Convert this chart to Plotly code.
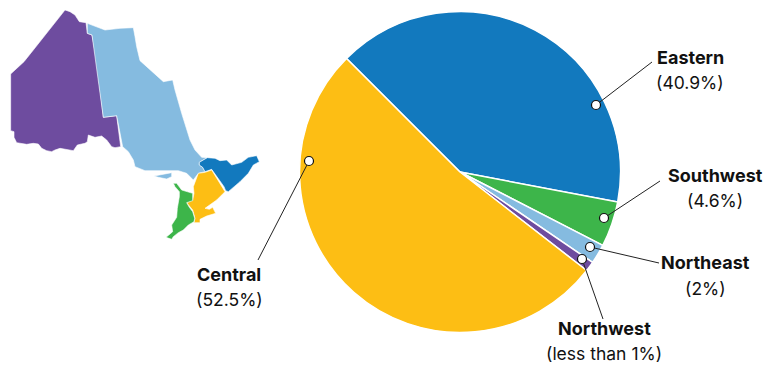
import plotly.graph_objects as go

W, H = 775, 368

# Pie data
regions = ["Eastern", "Southwest", "Northeast", "Northwest", "Central"]
shares = [40.9, 4.6, 2.0, 1.0, 52.5]
share_labels = ["(40.9%)", "(4.6%)", "(2%)", "(less than 1%)", "(52.5%)"]
colors = ["#1279BE", "#3DB54A", "#85BBE0", "#6E4C9F", "#FDBE14"]

# Ontario region outlines (pixel coordinates x3)
northwest_x = [32,72,100,135,195,210,225,238,258,262,276,290,310,350,362,345,335,320,305,285,265,262,255,245,232,220,205,180,165,155,140,125,115,100,80,50,42,42,32]
northwest_y = [222,185,150,105,30,35,45,65,68,100,105,180,352,347,440,443,440,420,408,412,405,425,430,432,435,452,450,445,450,455,452,445,432,430,433,428,412,395,392]
northeast_x = [262,290,315,360,400,405,410,420,440,470,490,518,525,545,560,570,585,605,622,598,598,608,615,595,580,560,535,490,460,435,405,400,385,368,350,310,276,262]
northeast_y = [70,80,90,85,83,110,140,182,200,225,245,240,270,340,390,420,450,472,473,487,495,502,515,520,540,520,512,512,512,512,500,480,455,440,347,352,105,100]
island_x = [462,490,515,515,500,475]
island_y = [528,523,518,530,537,532]
eastern_x = [598,622,645,660,680,695,725,745,770,778,760,745,720,700,685,677,672,635,615,608,598]
eastern_y = [487,473,475,482,480,495,487,472,467,485,495,520,545,562,575,572,560,508,515,502,495]
central_x = [635,675,650,615,628,638,647,620,600,600,582,585,578,568,560,578,582,580,595,615]
central_y = [510,575,600,625,628,622,640,648,658,668,668,655,630,618,608,600,580,560,520,517]
southwest_x = [520,530,545,565,578,578,560,568,578,584,582,565,550,535,520,515,498,510,518,515,530,532,538,538,525]
southwest_y = [550,550,570,575,580,602,608,622,635,655,665,675,690,698,710,718,712,702,695,675,652,625,590,575,560]

map_parts = [
    (northwest_x, northwest_y, colors[3]),
    (northeast_x, northeast_y, colors[2]),
    (island_x, island_y, colors[2]),
    (eastern_x, eastern_y, colors[0]),
    (central_x, central_y, colors[4]),
    (southwest_x, southwest_y, colors[1]),
]

fig = go.Figure()

for xs, ys, c in map_parts:
    fig.add_trace(go.Scatter(
        x=[v / 3 for v in xs] + [xs[0] / 3],
        y=[v / 3 for v in ys] + [ys[0] / 3],
        mode="lines", fill="toself", fillcolor=c,
        line=dict(color="#FFFFFF", width=0.6),
        hoverinfo="skip", showlegend=False,
    ))

fig.add_trace(go.Pie(
    labels=regions, values=shares, sort=False, direction="clockwise",
    rotation=-45, textinfo="none",
    marker=dict(colors=colors, line=dict(color="#FFFFFF", width=1.5)),
    domain=dict(x=[299.5 / W, 620.5 / W], y=[1 - 332.5 / H, 1 - 11.5 / H]),
    showlegend=False,
))

# Leader lines: dot on slice -> label end
leaders = {
    "Eastern": (596, 105, 652, 62),
    "Southwest": (604, 218, 660, 181),
    "Northeast": (590, 247, 659, 263),
    "Northwest": (582, 259, 603, 319),
    "Central": (309, 161, 258, 260),
}
shapes = []
for x0, y0, x1, y1 in leaders.values():
    shapes.append(dict(type="line", xref="x", yref="y", x0=x0, y0=y0, x1=x1, y1=y1,
                       line=dict(color="#222222", width=1), layer="above"))
for x0, y0, _, _ in leaders.values():
    shapes.append(dict(type="circle", xref="x", yref="y", x0=x0 - 4.5, y0=y0 - 4.5, x1=x0 + 4.5, y1=y0 + 4.5,
                       fillcolor="#FFFFFF", line=dict(color="#111111", width=1.2), layer="above"))

# Label centres: name line and share line
label_pos = {
    "Eastern": (690, 57, 82),
    "Southwest": (715, 175, 200),
    "Northeast": (705, 262, 288),
    "Northwest": (604, 328, 353),
    "Central": (229, 274, 299),
}
annotations = []
for name, pct in zip(regions, share_labels):
    cx, y1, y2 = label_pos[name]
    annotations.append(dict(x=cx, y=y1, xref="x", yref="y", text=f"<b>{name}</b>", showarrow=False,
                            font=dict(family="Inter", size=18, color="#111111")))
    annotations.append(dict(x=cx, y=y2, xref="x", yref="y", text=pct, showarrow=False,
                            font=dict(family="Inter", size=17.5, color="#111111")))

fig.update_layout(
    width=W, height=H, margin=dict(l=0, r=0, t=0, b=0),
    paper_bgcolor="#FFFFFF", plot_bgcolor="#FFFFFF",
    xaxis=dict(range=[0, W], visible=False, fixedrange=True),
    yaxis=dict(range=[H, 0], visible=False, fixedrange=True),
    shapes=shapes, annotations=annotations,
)
fig.write_html("out.html", config={"displayModeBar": False},
               post_script="document.body.style.margin='0';document.documentElement.style.overflow='hidden';")
